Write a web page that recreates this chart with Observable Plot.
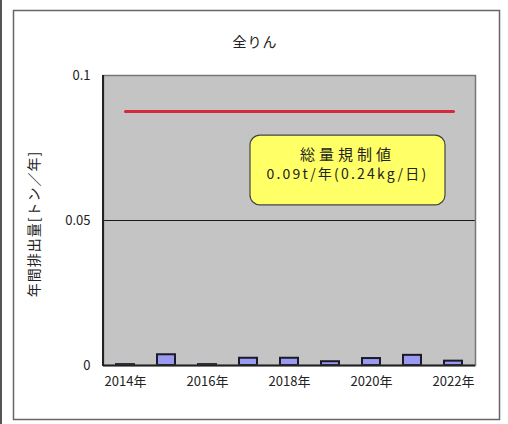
<!DOCTYPE html>
<html>
<head>
<meta charset="utf-8">
<script src="https://cdn.jsdelivr.net/npm/d3@7"></script>
<script src="https://cdn.jsdelivr.net/npm/@observablehq/plot@0.6"></script>
<style>
  html, body { margin: 0; padding: 0; background: #fff; }
  #chart { width: 508px; height: 424px; }
  svg { font-family: "Noto Sans CJK JP", "Liberation Sans", sans-serif; }
</style>
</head>
<body>
<div id="chart"></div>
<script>
// Annual discharge of total phosphorus (t/year)
const years = [2014, 2015, 2016, 2017, 2018, 2019, 2020, 2021, 2022];
const discharge = [0.0003, 0.0037, 0.0003, 0.0025, 0.0025, 0.0013, 0.0024, 0.0035, 0.0015];
// Total-load regulation limit: 0.24 kg/day = 0.0876 t/year
const limitValue = [0.0876, 0.0876, 0.0876, 0.0876, 0.0876, 0.0876, 0.0876, 0.0876, 0.0876];
const yTicks = [0, 0.05, 0.1];
const xLabelYears = [2014, 2016, 2018, 2020, 2022];
const titleText = "全りん";
const yLabelText = "年間排出量[トン／年]";
const calloutLines = ["総量規制値", "0.09t/年(0.24kg/日)"];

const rows = years.map((y, i) => ({year: y, value: discharge[i], limit: limitValue[i]}));

const W = 508, H = 424;
const tickFont = {fontSize: 13, letterSpacing: "1.4px"};
const plot = Plot.plot({
  width: W,
  height: H,
  marginLeft: 103,
  marginRight: 33,
  marginTop: 75,
  marginBottom: 59,
  style: {fontSize: "13px", fontFamily: "'Noto Sans CJK JP', sans-serif", color: "#222", background: "transparent"},
  x: {type: "band", domain: years, paddingInner: 0.56, paddingOuter: 0.28, label: null},
  y: {domain: [0, 0.1], label: null},
  marks: [
    Plot.frame({fill: "#c4c4c4", stroke: "none"}),
    Plot.ruleY([0.05], {stroke: "#1a1a1a", strokeWidth: 1}),
    Plot.barY(rows, {x: "year", y: "value", fill: "#9a9af0", stroke: "#1a1a2a", strokeWidth: 2}),
    Plot.lineY(rows, {x: "year", y: "limit", stroke: "#d42a3c", strokeWidth: 3}),
    Plot.axisX({ticks: xLabelYears, tickFormat: d => d + "年", tickSize: 0, tickPadding: 11, label: null, ...tickFont}),
    Plot.axisY({ticks: yTicks, tickSize: 0, tickPadding: 13, label: null, ...tickFont,
      tickFormat: d => d === 0 ? "0" : String(d)}),
    Plot.frame({stroke: "#777", strokeWidth: 1.5}),
    Plot.ruleY([0], {stroke: "#222", strokeWidth: 2})
  ]
});

document.getElementById("chart").appendChild(plot);

// Overlay: outer border, left axis line, titles and the limit callout box
const svg = d3.select(plot);
const ys = plot.scale("y");
const xs = plot.scale("x");
const center = yr => xs.apply(yr) + xs.bandwidth / 2;

svg.insert("rect", ":first-child")
  .attr("x", 13.5).attr("y", 10.5).attr("width", 486).attr("height", 409)
  .attr("fill", "#fff").attr("stroke", "#666").attr("stroke-width", 1.5);
svg.append("line").attr("x1", 1).attr("x2", 1).attr("y1", 0).attr("y2", H)
  .attr("stroke", "#555").attr("stroke-width", 2);
svg.append("line").attr("x1", 103).attr("x2", 103)
  .attr("y1", ys.apply(0.1)).attr("y2", ys.apply(0) + 1)
  .attr("stroke", "#222").attr("stroke-width", 2);

svg.append("text")
  .attr("x", 255).attr("y", 47)
  .attr("text-anchor", "middle")
  .attr("font-size", 14).attr("letter-spacing", "1px").attr("fill", "#222")
  .text(titleText);

svg.append("text")
  .attr("transform", `translate(35,${(ys.apply(0) + ys.apply(0.1)) / 2 + 4}) rotate(-90)`)
  .attr("text-anchor", "middle").attr("dominant-baseline", "middle")
  .attr("font-size", 14).attr("letter-spacing", "1px").attr("fill", "#222")
  .text(yLabelText);

// Callout box below the limit line
const bx0 = center(2017) + 2;
const bx1 = center(2022) - 8;
const by0 = ys.apply(0.0793);
const by1 = ys.apply(0.0552);
const g = svg.append("g");
g.append("rect")
  .attr("x", bx0).attr("y", by0).attr("width", bx1 - bx0).attr("height", by1 - by0)
  .attr("rx", 10).attr("fill", "#ffff66").attr("stroke", "#444").attr("stroke-width", 1.2);
g.append("text")
  .attr("x", (bx0 + bx1) / 2).attr("y", by0 + 25)
  .attr("text-anchor", "middle")
  .attr("font-size", 15).attr("letter-spacing", "4px").attr("fill", "#222")
  .text(calloutLines[0]);
g.append("text")
  .attr("x", (bx0 + bx1) / 2).attr("y", by0 + 44)
  .attr("text-anchor", "middle")
  .attr("font-size", 14).attr("letter-spacing", "2.2px").attr("fill", "#222")
  .text(calloutLines[1]);
</script>
</body>
</html>
